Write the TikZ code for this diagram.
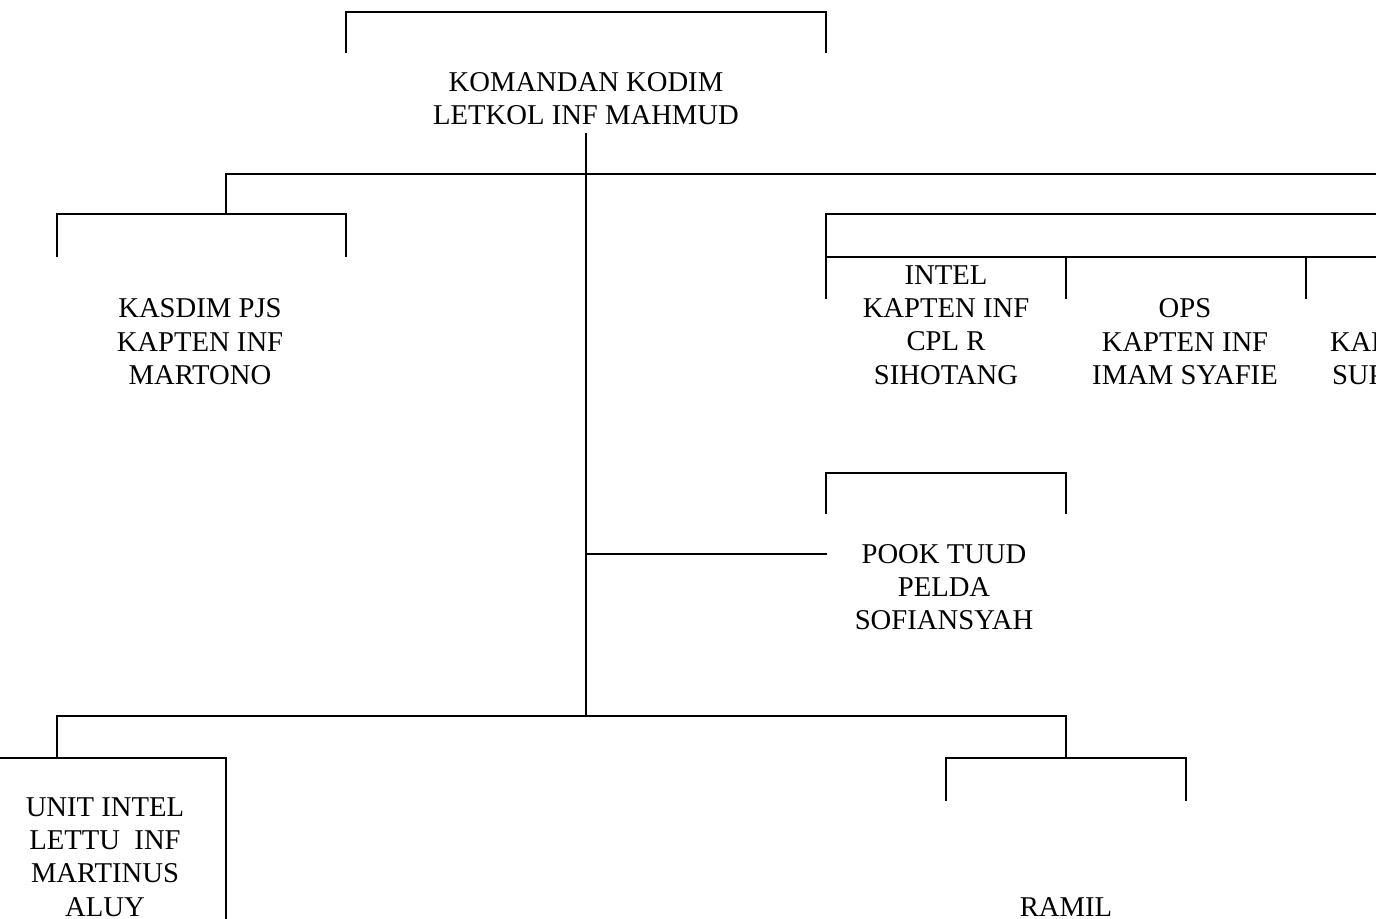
\documentclass[tikz,border=0pt]{standalone}
\usepackage{fontspec}
\setmainfont{Liberation Serif}
\newcommand\brk[4]{\draw (#1,#4) -- (#1,#3) -- (#2,#3) -- (#2,#4);}
\begin{document}
\begin{tikzpicture}[x=0.75pt,y=-0.75pt,line width=1.5pt,line cap=rect,
  lbl/.style={align=center,font=\fontsize{21.5}{25}\selectfont,inner sep=0pt}]
\useasboundingbox (0,0) rectangle (1376,919);
% text nodes
\node[lbl] (kdm) at (586,98.5) {KOMANDAN KODIM\\LETKOL INF MAHMUD};
\node[lbl] (kasdim) at (200,341.7) {KASDIM PJS\\KAPTEN INF\\MARTONO};
\node[lbl] (intel) at (946,325) {INTEL\\KAPTEN INF\\CPL R\\SIHOTANG};
\node[lbl] (ops) at (1185,341.7) {OPS\\KAPTEN INF\\IMAM SYAFIE};
\node[lbl,anchor=west] (k3a) at (1329,341.7) {KAPTEN INF};
\node[lbl,anchor=west] (k3b) at (1331,375) {SUP};
\node[lbl] (pook) at (944,587) {POOK TUUD\\PELDA\\SOFIANSYAH};
\node[lbl] (unit) at (105,857) {UNIT INTEL\\LETTU\ \ INF\\MARTINUS\\ALUY};
\node[lbl] (ramil) at (1066,906.7) {RAMIL};
% coordinates
\coordinate (spTop) at (586,134);
\coordinate (spBus) at (586,174);
\coordinate (spPook) at (586,554);
\coordinate (spBot) at (586,716);
\coordinate (busL) at (226,174);
\coordinate (busR) at (1376,174);
\coordinate (kasTop) at (226,214);
\coordinate (pookL) at (826,554);
\coordinate (botL) at (57,716);
\coordinate (botR) at (1066,716);
\coordinate (unitTop) at (57,758);
\coordinate (ramilTop) at (1066,758);
% brackets
\brk{346}{826}{12}{52}
\brk{57}{346}{214}{256}
\brk{826}{1066}{473}{513}
\brk{946}{1186}{758}{800}
% connectors
\draw (spTop) -- (spBus) -- (spPook) -- (spBot);
\draw (busL) -- (spBus) -- (busR);
\draw (busL) -- (kasTop);
\draw (spPook) -- (pookL);
\draw (botL) -- (spBot) -- (botR);
\draw (botL) -- (unitTop);
\draw (botR) -- (ramilTop);
% staff group
\draw (826,298) -- (826,214) -- (1380,214);
\draw (826,257) -- (1380,257);
\draw (1066,257) -- (1066,298);
\draw (1306,257) -- (1306,298);
% unit intel box
\draw (-4,758) -- (226,758) -- (226,923);
\end{tikzpicture}
\end{document}
